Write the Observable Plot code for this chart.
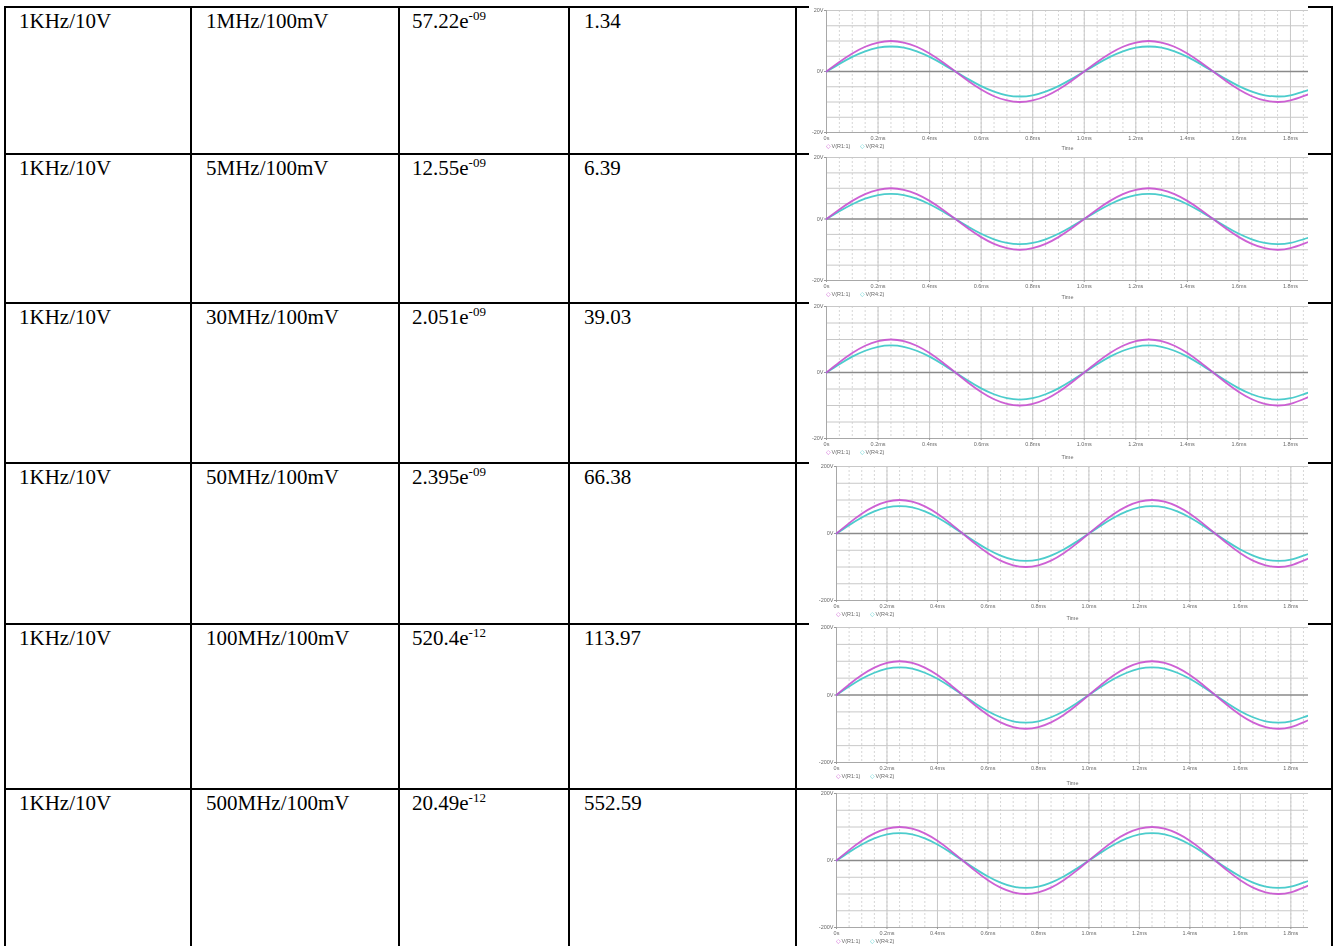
<!DOCTYPE html>
<html>
<head>
<meta charset="utf-8">
<script src="https://cdn.jsdelivr.net/npm/d3@7"></script>
<script src="https://cdn.jsdelivr.net/npm/@observablehq/plot@0.6"></script>
<style>
  html, body { margin: 0; padding: 0; background: #fff; }
  #page { position: relative; width: 1334px; height: 946px; overflow: hidden; background: #fff; }
  .hl, .vl { position: absolute; background: #000; }
  .cell { position: absolute; font-family: "Liberation Serif", "Times New Roman", serif; font-size: 21px; color: #000; white-space: nowrap; line-height: 1.15; }
  .cell sup { font-size: 13px; vertical-align: 8px; line-height: 0; }
  .chart { position: absolute; z-index: 2; }
  .chart svg { filter: blur(0.75px); display: block; }
</style>
</head>
<body>
<div id="page"></div>
<script>
// ---- table data ----
const sourceSignal = ["1KHz/10V", "1KHz/10V", "1KHz/10V", "1KHz/10V", "1KHz/10V", "1KHz/10V"];
const noiseSignal = ["1MHz/100mV", "5MHz/100mV", "30MHz/100mV", "50MHz/100mV", "100MHz/100mV", "500MHz/100mV"];
const valueMantissa = ["57.22", "12.55", "2.051", "2.395", "520.4", "20.49"];
const valueExponent = ["-09", "-09", "-09", "-09", "-12", "-12"];
const ratio = ["1.34", "6.39", "39.03", "66.38", "113.97", "552.59"];

// ---- waveform data ----
const timeMs = [0, 0.05, 0.1, 0.15, 0.2, 0.25, 0.3, 0.35, 0.4, 0.45, 0.5, 0.55, 0.6, 0.65, 0.7, 0.75, 0.8, 0.85, 0.9, 0.95,
  1.0, 1.05, 1.1, 1.15, 1.2, 1.25, 1.3, 1.35, 1.4, 1.45, 1.5, 1.55, 1.6, 1.65, 1.7, 1.75, 1.8, 1.85, 1.875];
const vR1 = [0, 3.1, 5.9, 8.1, 9.5, 10, 9.5, 8.1, 5.9, 3.1, 0, -3.1, -5.9, -8.1, -9.5, -10, -9.5, -8.1, -5.9, -3.1,
  0, 3.1, 5.9, 8.1, 9.5, 10, 9.5, 8.1, 5.9, 3.1, 0, -3.1, -5.9, -8.1, -9.5, -10, -9.5, -8.1, -7.3];
const vR4 = [0, 2.5, 4.8, 6.6, 7.8, 8.2, 7.8, 6.6, 4.8, 2.5, 0, -2.5, -4.8, -6.6, -7.8, -8.2, -7.8, -6.6, -4.8, -2.5,
  0, 2.5, 4.8, 6.6, 7.8, 8.2, 7.8, 6.6, 4.8, 2.5, 0, -2.5, -4.8, -6.6, -7.8, -8.2, -7.8, -6.6, -6.0];
const xTicks = [0, 0.2, 0.4, 0.6, 0.8, 1.0, 1.2, 1.4, 1.6, 1.8];
const xTickLabels = ["0s", "0.2ms", "0.4ms", "0.6ms", "0.8ms", "1.0ms", "1.2ms", "1.4ms", "1.6ms", "1.8ms"];
const yTicks = [-20, 0, 20];
const yTickLabelsA = ["-20V", "0V", "20V"];
const yTickLabelsB = ["-200V", "0V", "200V"];
const legendNames = ["V(R1:1)", "V(R4:2)"];
const colR1 = "#c850cf";
const colR4 = "#4ccccc";

// ---- layout ----
const colX = [5, 191, 399, 569, 796, 1332];
const rowTops = [7, 154, 303, 463, 624, 789];
const pageBottom = 946;
const chartLeft = 809, chartRight = 1308;
const plotLeft = [826, 826, 826, 836, 836, 836];
const plotTops = [10, 157, 306, 466, 627, 793];
const plotBottoms = [132, 280, 438, 600, 762, 927];
const chartTops = [6, 153, 302, 462, 623, 790];
const chartBottoms = [153, 302, 462, 623, 788, 960];

const page = document.getElementById("page");
function addDiv(cls, style, html) {
  const d = document.createElement("div");
  d.className = cls;
  Object.assign(d.style, style);
  if (html !== undefined) d.innerHTML = html;
  page.appendChild(d);
  return d;
}
// horizontal lines
rowTops.forEach(y => addDiv("hl", {left: (colX[0] - 1) + "px", top: (y - 1) + "px", width: (colX[5] - colX[0] + 2) + "px", height: "2px"}));
// vertical lines
colX.forEach(x => addDiv("vl", {left: (x - 1) + "px", top: (rowTops[0] - 1) + "px", width: "2px", height: (pageBottom - rowTops[0] + 2) + "px"}));

// text cells
for (let i = 0; i < 6; i++) {
  const top = rowTops[i] + 2;
  addDiv("cell", {left: (colX[0] + 14) + "px", top: top + "px"}, sourceSignal[i]);
  addDiv("cell", {left: (colX[1] + 15) + "px", top: top + "px"}, noiseSignal[i]);
  addDiv("cell", {left: (colX[2] + 13) + "px", top: top + "px"}, valueMantissa[i] + "e<sup>" + valueExponent[i] + "</sup>");
  addDiv("cell", {left: (colX[3] + 15) + "px", top: top + "px"}, ratio[i]);
}

// waveform charts
const data = timeMs.map((t, i) => ({t, v1: vR1[i], v4: vR4[i]}));
const minorTicks = d3.range(0, 1.876, 0.05);
const yGrid = [-20, -15, -10, -5, 5, 10, 15, 20];

for (let i = 0; i < 6; i++) {
  const top = chartTops[i];
  const height = chartBottoms[i] - top;
  const mb = chartBottoms[i] - plotBottoms[i];
  const ylab = i < 3 ? yTickLabelsA : yTickLabelsB;
  const timeDy = Math.min(23, mb - 4);
  const timeVisible = plotBottoms[i] + timeDy + 3 <= pageBottom;
  const svg = Plot.plot({
    width: chartRight - chartLeft,
    height,
    marginLeft: plotLeft[i] - chartLeft,
    marginRight: 0,
    marginTop: plotTops[i] - top,
    marginBottom: mb,
    x: {domain: [0, 1.87], label: null},
    y: {domain: [-20, 20], label: null},
    style: {background: "#fff", fontFamily: "Liberation Sans, Arial, sans-serif", fontSize: "5.5px", color: "#6a6a6a"},
    marks: [
      Plot.ruleX(minorTicks, {stroke: "#d6d6d6", strokeDasharray: "2,2", strokeWidth: 1}),
      Plot.ruleX(xTicks, {stroke: "#c8c8c8", strokeWidth: 1}),
      Plot.ruleY(yGrid, {stroke: "#c8c8c8", strokeWidth: 1}),
      Plot.ruleY([0], {stroke: "#8a8a8a", strokeWidth: 1.3}),
      Plot.ruleX([0], {stroke: "#a8a8a8"}),
      Plot.ruleY([-20], {stroke: "#a8a8a8"}),
      Plot.axisX({ticks: xTicks, tickFormat: d => xTickLabels[xTicks.indexOf(d)], tickSize: 2, tickPadding: 2, fontSize: 5.5, stroke: "#999", fill: "#6a6a6a", label: null}),
      Plot.axisY({ticks: yTicks, tickFormat: d => ylab[yTicks.indexOf(d)], tickSize: 2, tickPadding: 1, fontSize: 5.5, stroke: "#999", fill: "#6a6a6a", label: null}),
      Plot.line(data, {x: "t", y: "v4", stroke: colR4, strokeWidth: 1.8, curve: "natural"}),
      Plot.line(data, {x: "t", y: "v1", stroke: colR1, strokeWidth: 1.8, curve: "natural", strokeOpacity: 0.9}),
      Plot.text(["◇"], {frameAnchor: "bottom-left", dx: -1, dy: 15, fill: colR1, fontSize: 6, textAnchor: "start"}),
      Plot.text([legendNames[0]], {frameAnchor: "bottom-left", dx: 5, dy: 15, fill: "#6a6a6a", fontSize: 5.5, textAnchor: "start"}),
      Plot.text(["◇"], {frameAnchor: "bottom-left", dx: 33, dy: 15, fill: colR4, fontSize: 6, textAnchor: "start"}),
      Plot.text([legendNames[1]], {frameAnchor: "bottom-left", dx: 39, dy: 15, fill: "#6a6a6a", fontSize: 5.5, textAnchor: "start"}),
      timeVisible ? Plot.text(["Time"], {frameAnchor: "bottom", dy: timeDy, fill: "#6a6a6a", fontSize: 5.5}) : null
    ]
  });
  const holder = addDiv("chart", {left: chartLeft + "px", top: top + "px", width: (chartRight - chartLeft) + "px", height: height + "px", overflow: "hidden", background: "#fff"});
  holder.appendChild(svg);
}
</script>
</body>
</html>
